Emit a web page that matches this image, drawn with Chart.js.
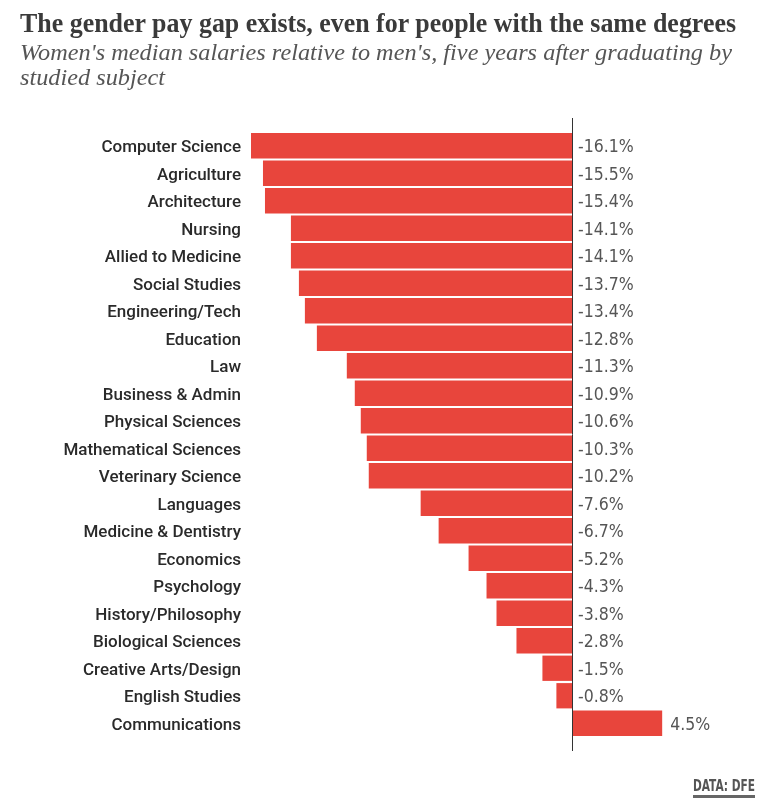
<!DOCTYPE html>
<html>
<head>
<meta charset="utf-8">
<script src="https://cdn.jsdelivr.net/npm/chart.js@4.4.1/dist/chart.umd.min.js"></script>
<style>
  html, body { margin: 0; padding: 0; background: #fff; }
  #wrap { position: relative; width: 772px; height: 805px; overflow: hidden; }
  #chart { position: absolute; left: 0; top: 0; }
  .fit { position: absolute; white-space: nowrap; transform-origin: 0 0; }
  #title { left: 20px; top: 9px; font: bold 28px/28px "Liberation Serif", serif; color: #3a3a3a; }
  .sub { left: 20px; font: italic 24px/24px "Liberation Serif", serif; color: #555; }
  #sub1 { top: 40px; }
  #sub2 { top: 65px; }
  #source { left: 693px; top: 779px; font: bold 15px/15px "Liberation Sans Narrow", "DejaVu Sans Condensed", Roboto, sans-serif; color: #555; }
  #srcline { position: absolute; left: 693px; top: 795px; width: 62px; height: 3px; background: #666; }
</style>
</head>
<body>
<div id="wrap">
  <canvas id="chart" width="772" height="805"></canvas>
  <div id="title" class="fit" data-w="716">The gender pay gap exists, even for people with the same degrees</div>
  <div id="sub1" class="fit sub" data-w="712">Women's median salaries relative to men's, five years after graduating by</div>
  <div id="sub2" class="fit sub" data-ref="sub1">studied subject</div>
  <div id="source" class="fit" data-w="62">DATA: DFE</div>
  <div id="srcline"></div>
</div>
<script>
const subjects = [
  "Computer Science", "Agriculture", "Architecture", "Nursing", "Allied to Medicine",
  "Social Studies", "Engineering/Tech", "Education", "Law", "Business & Admin",
  "Physical Sciences", "Mathematical Sciences", "Veterinary Science", "Languages",
  "Medicine & Dentistry", "Economics", "Psychology", "History/Philosophy",
  "Biological Sciences", "Creative Arts/Design", "English Studies", "Communications"
];
const payGap = [
  -16.1, -15.5, -15.4, -14.1, -14.1, -13.7, -13.4, -12.8, -11.3, -10.9,
  -10.6, -10.3, -10.2, -7.6, -6.7, -5.2, -4.3, -3.8, -2.8, -1.5, -0.8, 4.5
];
const valueLabels = payGap.map(v => v.toFixed(1) + "%");

const LABEL_FONT = 'Roboto, "Liberation Sans Narrow", sans-serif';
const VALUE_FONT = '"Liberation Sans Narrow", "DejaVu Sans Condensed", Roboto, sans-serif';

function fitTexts() {
  document.querySelectorAll('.fit').forEach(el => {
    el.style.transform = 'none';
    let s;
    if (el.dataset.w) {
      s = parseFloat(el.dataset.w) / el.getBoundingClientRect().width;
      el.dataset.s = s;
    } else {
      s = parseFloat(document.getElementById(el.dataset.ref).dataset.s);
    }
    el.style.transform = 'scaleX(' + s + ')';
  });
}
fitTexts();
if (document.fonts && document.fonts.ready) document.fonts.ready.then(fitTexts);

const zeroLine = {
  id: 'zeroLine',
  afterDatasetsDraw(chart) {
    const { ctx, chartArea, scales } = chart;
    const x0 = Math.round(scales.x.getPixelForValue(0)) + 0.5;
    ctx.save();
    ctx.strokeStyle = '#333';
    ctx.lineWidth = 1;
    ctx.beginPath();
    ctx.moveTo(x0, chartArea.top - 14);
    ctx.lineTo(x0, chartArea.bottom + 14);
    ctx.stroke();
    ctx.font = '17.5px ' + VALUE_FONT;
    ctx.fillStyle = '#555';
    ctx.textBaseline = 'middle';
    ctx.textAlign = 'left';
    const meta = chart.getDatasetMeta(0);
    meta.data.forEach((bar, i) => {
      const v = payGap[i];
      const x = v < 0 ? x0 + 5.5 : bar.x + 8;
      ctx.fillText(valueLabels[i], x, bar.y + 2);
    });
    ctx.restore();
  }
};

new Chart(document.getElementById('chart'), {
  type: 'bar',
  data: {
    labels: subjects,
    datasets: [{
      data: payGap,
      backgroundColor: '#e8453c',
      borderWidth: 0,
      barPercentage: 0.92,
      categoryPercentage: 1.0
    }]
  },
  options: {
    indexAxis: 'y',
    responsive: false,
    animation: false,
    layout: { padding: { top: 132, bottom: 68, left: 0, right: 20 } },
    plugins: { legend: { display: false }, tooltip: { enabled: false } },
    scales: {
      x: { display: false, min: -16.1, max: 9 },
      y: {
        grid: { display: false, drawTicks: false },
        border: { display: false },
        afterFit(scale) { scale.width = 251; },
        ticks: {
          padding: 10,
          labelOffset: 2,
          color: '#2a2a2a',
          font: { family: LABEL_FONT, size: 17, weight: '500' }
        }
      }
    }
  },
  plugins: [zeroLine]
});
</script>
</body>
</html>
